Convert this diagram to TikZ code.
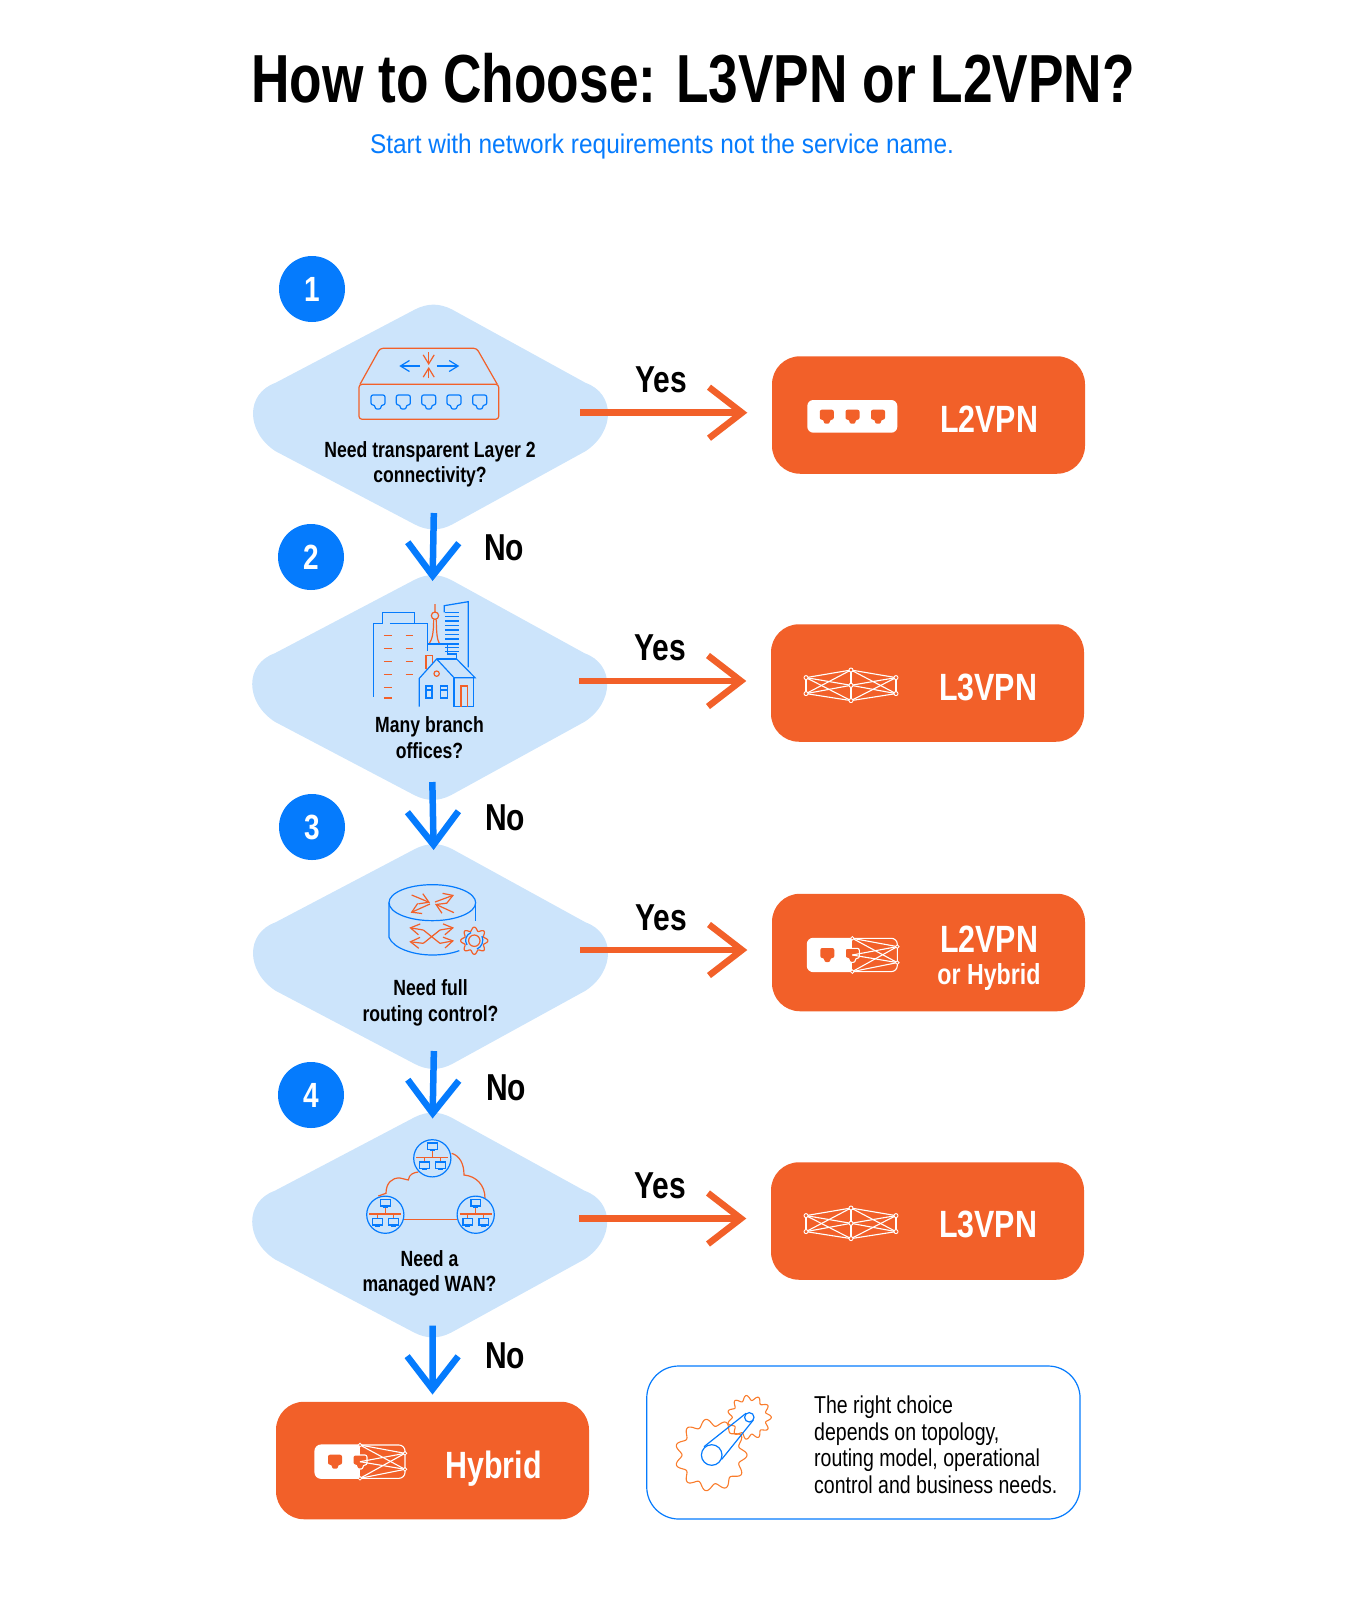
\documentclass[tikz,border=0pt]{standalone}
\usepackage{fontspec}
\setmainfont[FakeStretch=0.8]{Liberation Sans}
\newfontfamily\titlefont[FakeStretch=0.783]{Liberation Sans}
\newfontfamily\subfont[FakeStretch=0.905]{Liberation Sans}
\usetikzlibrary{calc}
\usetikzlibrary{arrows.meta}
\definecolor{netblue}{HTML}{057BFD}
\definecolor{netorange}{HTML}{F26029}
\definecolor{diablue}{HTML}{CCE4FB}
\definecolor{gearorange}{HTML}{F97C2C}
\newcommand{\fs}[1]{\fontsize{#1}{#1}\selectfont}
\tikzset{
  numdot/.style={circle,fill=netblue,text=white,minimum size=66pt,inner sep=0pt,font=\fs{35}\bfseries},
  qtext/.style={align=center,inner sep=0pt,font=\fontsize{22}{25.5}\selectfont\bfseries},
  anslabel/.style={inner sep=0pt,font=\fs{37.5}\bfseries},
  resbox/.style={rounded corners=28pt,fill=netorange,minimum width=313pt,minimum height=117.5pt,inner sep=0pt},
  restext/.style={inner sep=0pt,text=white,font=\fs{38}\bfseries},
  yesline/.style={draw=netorange,line width=6.5pt,-{Straight Barb[length=33pt,width=51pt]},shorten <=-28pt,shorten >=24.5pt},
  noline/.style={draw=netblue,line width=6.5pt,-{Straight Barb[length=33pt,width=51pt]},shorten <=-19pt,shorten >=-7pt},
  iconb/.style={draw=netblue,line width=1.2pt},
  icono/.style={draw=netorange,line width=1.2pt},
  thin head/.style={-{Straight Barb[length=9pt,width=11pt]}},
}
\newcommand{\createdia}[4]{\fill[diablue,shift={(#2,#3)}] (-158,-30.7) -- (-18.6,-104) .. controls (-6,-110.5) and (6,-110.5) .. (18.6,-104) -- (152,-30.7) .. controls (182,-20) and (182,18) .. (152,37.7) -- (18.6,111) .. controls (6,117.5) and (-6,117.5) .. (-18.6,111) -- (-158,37.7) .. controls (-188,18) and (-188,-20) .. (-158,-30.7) -- cycle; \coordinate (#1n) at (#2,#3-110); \coordinate (#1s) at (#2,#3+117); \coordinate (#1e) at (#2+174.5,#4);}
\newcommand{\createport}[3]{\path[#3,shift={(#1,#2)},rounded corners=2pt] (-7,-7) -- (7,-7) -- (7,3) -- (3,3) -- (3,7) -- (-3,7) -- (-3,3) -- (-7,3) -- cycle;}
\newcommand{\createmesh}[2]{\begin{scope}[shift={(#1,#2)},line width=1.1pt]
  \coordinate (l1) at (-45,-7.7); \coordinate (l2) at (-45,8.3); \coordinate (r1) at (45,-7.7); \coordinate (r2) at (45,8.3);
  \coordinate (t) at (0,-15.3); \coordinate (c) at (0,0); \coordinate (b) at (0,15.3);
  \foreach \p in {l1,l2,r1,r2} {\foreach \q in {t,c,b} {\draw[white] (\p) -- (\q);}}
  \draw[white] (l1) -- (l2) (r1) -- (r2) (t) -- (b);
  \foreach \p in {l1,l2,r1,r2,t,c,b} {\draw[white,fill=netorange,line width=0.9pt] (\p) circle (2);}
  \end{scope}}
\newcommand{\createhybrid}[2]{\begin{scope}[shift={(#1,#2)},line width=1.1pt]
  \begin{scope} \clip[rounded corners=6pt] (0,0) rectangle (90,33.3); \fill[white] (0,0) rectangle (45,33.3); \end{scope}
  \draw[white,rounded corners=6pt] (0,0) rectangle (90,33.3);
  \createport{20}{16.7}{fill=netorange}
  \createport{45}{17}{fill=netorange,draw=white}
  \foreach \ya in {0,16.7,33.3} {\foreach \yb in {8.3,24.3} {\draw[white] (45,\ya) -- (90,\yb);}}
  \foreach \ya in {0,33.3} {\draw[white,fill=netorange,line width=0.8pt] (45,\ya) circle (1.8);}
  \foreach \yb in {8.3,24.3} {\draw[white,fill=netorange,line width=0.8pt] (90,\yb) circle (1.8);}
  \end{scope}}
\newcommand{\createnet}[2]{\begin{scope}[shift={(#1,#2)}]
  \draw[iconb] (0,0) circle (18.6);
  \draw[icono] (-16,-0.7) -- (16,-0.7) (0,-8) -- (0,-0.7) (-8,-0.7) -- (-8,4) (8,-0.7) -- (8,4);
  \foreach \mx/\my in {0/-12,-8/7,8/7} {\draw[iconb] (\mx-4.8,\my-3.3) rectangle (\mx+4.8,\my+3.3);
    \draw[iconb] (\mx-2.5,\my+4.5) -- (\mx+2.5,\my+4.5);}
  \end{scope}}
\newcommand{\creategear}[6]{\draw[#6,line join=round] plot[domain=0:360,samples=181,smooth] ({#1+(#3+#4*cos(#5*\x))*cos(\x)},{#2+(#3+#4*cos(#5*\x))*sin(\x)}) -- cycle;}

\begin{document}
\begin{tikzpicture}[x=1pt,y=-1pt]
  \useasboundingbox (0,0) rectangle (1350,1599);
  \node[inner sep=0pt,font=\fs{68}\titlefont\bfseries] (title) at (693,78) {How to Choose: L3VPN or L2VPN?};
  \node[inner sep=0pt,text=netblue,font=\fs{27}\subfont] (subtitle) at (662,147) {Start with network requirements not the service name.};
  %decisions
  \createdia{d1}{433.5}{413.5}{412.7}
  \createdia{d2}{432.7}{684}{681}
  \createdia{d3}{433.5}{953}{950}
  \createdia{d4}{432.7}{1221.5}{1218.5}
  \node[numdot] (n1) at (312,289) {1};
  \node[numdot] (n2) at (311,557) {2};
  \node[numdot] (n3) at (312,827) {3};
  \node[numdot] (n4) at (311,1095) {4};
  \node[qtext] (q1) at (430,464.5) {Need transparent Layer 2\\connectivity?};
  \node[qtext] (q2) at (429.5,737.5) {Many branch\\offices?};
  \node[qtext] (q3) at (430.5,1003) {Need full\\routing control?};
  \node[qtext] (q4) at (429.5,1273.5) {Need a\\managed WAN?};
  %results
  \node[resbox] (r1) at (928.5,415) {};
  \node[resbox] (r2) at (927.5,683) {};
  \node[resbox] (r3) at (928.5,952.5) {};
  \node[resbox] (r4) at (927.5,1221) {};
  \node[resbox] (r5) at (432.5,1460.5) {};
  \node[restext] (t1) at (989,419) {L2VPN};
  \node[restext] (t2) at (988,687) {L3VPN};
  \node[restext] (t3) at (989,939) {L2VPN};
  \node[restext,font=\fs{29}\bfseries] (t3b) at (989,976.5) {or Hybrid};
  \node[restext] (t4) at (988,1224.5) {L3VPN};
  \node[restext] (t5) at (493.5,1469) {Hybrid};
  %arrows
  \foreach \i in {1,2,3,4} {\draw[yesline] (d\i e) -- (d\i e -| r\i.west);}
  \draw[noline,shorten <=-17.5pt] (d1s) -- (d2n);
  \draw[noline] (d2s) -- (d3n);
  \draw[noline] (d3s) -- (d4n);
  \draw[noline,shorten <=-13pt,shorten >=7pt] (d4s) -- (r5.north);
  \node[anslabel] (y1) at (661,380) {Yes};
  \node[anslabel] (y2) at (660,648) {Yes};
  \node[anslabel] (y3) at (661,918) {Yes};
  \node[anslabel] (y4) at (660,1186) {Yes};
  \node[anslabel] (a1) at (504,548) {No};
  \node[anslabel] (a2) at (505,818) {No};
  \node[anslabel] (a3) at (506,1088) {No};
  \node[anslabel] (a4) at (505,1355.5) {No};
  %switch
  \draw[icono,rounded corners=3pt] (359,384.3) rectangle (498.7,419.3);
  \draw[icono,rounded corners=3pt] (360,384.3) -- (380,348.3) -- (476.7,348.3) -- (497.3,384.3);
  \draw[iconb,thin head] (420,366) -- (399.3,366);
  \draw[iconb,thin head] (436.7,366) -- (459.3,366);
  \draw[icono,thin head] (428.7,352.3) -- (428.7,365);
  \draw[icono,thin head] (428.7,378.3) -- (428.7,367);
  \foreach \px in {378,403.3,428.7,454,479.7} {\createport{\px}{402}{iconb}}
  %buildings
  \begin{scope}[shift={(340,580)},scale=0.3333]
    \draw[iconb] (100,350) -- (100,130) -- (127,130) -- (127,98) -- (224,98) -- (224,130) -- (262,130) -- (262,212);
    \draw[iconb] (150,130) -- (224,130);
    \foreach \dy in {167,205,244,283,322,354} {\draw[icono] (132,\dy) -- (156,\dy);}
    \foreach \dy in {167,205,244,283} {\draw[icono] (197,\dy) -- (218,\dy);}
    \draw[icono] (285,107) circle (11) (285,72) -- (285,96);
    \draw[icono] (281,118) .. controls (281,160) and (276,180) .. (268,190);
    \draw[icono] (289,118) .. controls (289,160) and (292,180) .. (298,190);
    \draw[iconb] (262,192) -- (322,192) -- (322,222) -- (350,222) -- (350,237) -- (290,237);
    \draw[iconb] (322,192) -- (358,192);
    \draw[iconb] (313,97) -- (313,77) -- (385,65) -- (385,262);
    \foreach \dy in {97,110,123,137,150,163,177,202,215} {\draw[iconb] (315,\dy) -- (358,\dy);}
    \draw[icono] (258,268) -- (258,226) -- (277,226) -- (277,250);
    \draw[iconb] (238,380) -- (238,295) -- (290,237) -- (342,293) -- (405,293) -- (350,237);
    \draw[iconb] (342,293) -- (342,380) -- (400,380) -- (400,293);
    \draw[icono] (290,281) circle (8);
    \draw[iconb] (258,318) rectangle (276,354) (258,330) -- (276,330);
    \draw[iconb] (302,318) rectangle (322,354) (302,330) -- (322,330);
    \draw[icono] (363,380) -- (363,318) -- (382,318) -- (382,380);
  \end{scope}
  %router
  \begin{scope}[shift={(380,880)},scale=0.3333]
    \draw[iconb] (157,68) ellipse [x radius=130,y radius=54];
    \draw[iconb] (27,68) -- (27,172) .. controls (40,205) and (100,225) .. (157,225) .. controls (190,225) and (215,220) .. (238,212);
    \draw[iconb] (287,68) -- (287,122);
    \draw[icono,thin head] (222,98) -- (165,72);
    \draw[icono,thin head] (165,66) -- (222,45);
    \draw[icono,thin head] (95,45) -- (150,68);
    \draw[icono,thin head] (150,72) -- (92,98);
    \draw[icono,thin head] (130,150) -- (88,143);
    \draw[icono,thin head] (130,190) -- (88,185);
    \draw[icono,thin head] (180,190) -- (222,182);
    \draw[icono,thin head] (180,150) -- (222,143);
    \draw[icono] (130,150) -- (180,190) (130,190) -- (180,150);
  \end{scope}
  \creategear{474.3}{940.7}{11.8}{1.8}{8}{icono}
  \draw[icono] (474.3,940.7) circle (5.7);
  \draw[iconb] (482,936) .. controls (484,941) and (482,947) .. (477,949);
  \draw[iconb] (467,945) .. controls (464,940) and (466,935) .. (471,932.5);
  %cloud
  \draw[icono] (378.3,1196) -- (386,1193.3) .. controls (386,1183) and (392,1177.5) .. (400,1178) -- (408.3,1180) .. controls (409,1174) and (414,1172.5) .. (418.3,1172);
  \draw[icono] (451.7,1153.3) .. controls (460,1156) and (464,1164) .. (464,1175) .. controls (476,1176) and (485,1185) .. (485,1198);
  \draw[icono] (404,1219.3) -- (457.3,1219.3);
  \createnet{432.3}{1158.3}
  \createnet{385.3}{1214.7}
  \createnet{475.7}{1214.7}
  %result icons
  \fill[white,rounded corners=6pt] (807.3,400) rectangle (897.3,432.7);
  \foreach \px in {826.8,852.5,878} {\createport{\px}{416.7}{fill=netorange}}
  \createmesh{851}{685.3}
  \createmesh{851}{1223.3}
  \createhybrid{807.3}{938.3}
  \createhybrid{315}{1445}
  %note
  \node[draw=netblue,line width=1.2pt,rounded corners=32pt,minimum width=433.3pt,minimum height=153pt,inner sep=0pt] (note) at (863.4,1442.5) {};
  \node[anchor=west,align=left,inner sep=0pt,font=\fontsize{24.4}{26.5}\selectfont] (notetext) at (814,1445) {The right choice\\depends on topology,\\routing model, operational\\control and business needs.};
  \creategear{711}{1455}{32.5}{3.5}{11}{draw=gearorange,line width=1.1pt}
  \creategear{749.3}{1417.3}{19.5}{2.5}{11}{draw=gearorange,line width=1.1pt}
  \draw[iconb] (711.7,1455) circle (10.3) (749.3,1417.3) circle (4.7);
  \draw[iconb] (704,1446.7) -- (746,1413.3) (721.7,1459.3) -- (753.3,1420);
\end{tikzpicture}
\end{document}
